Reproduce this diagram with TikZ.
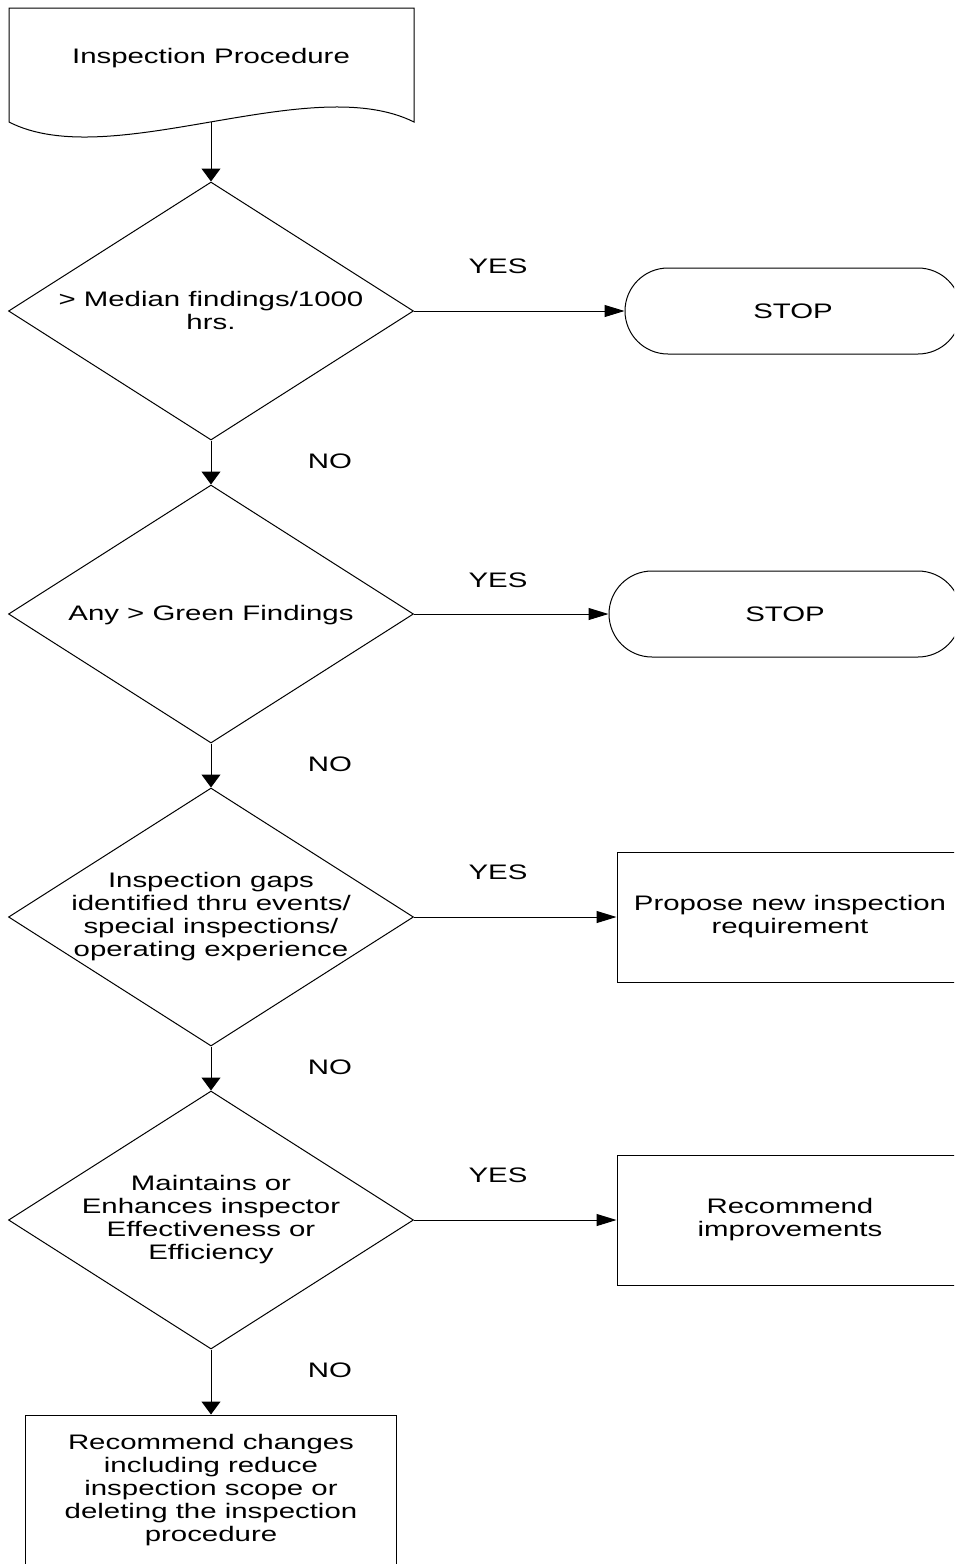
\documentclass[tikz,border=0pt]{standalone}
\usepackage{fontspec}
\setmainfont{Liberation Sans}[FakeStretch=1.4]
\usepackage{tikz}
\usetikzlibrary{shapes.geometric,arrows.meta}
\newdimen\pxu \pxu=0.5pt

\begin{document}
\begin{tikzpicture}[x=0.5pt,y=-0.5pt,line width=0.5pt]
\tikzstyle{every node}=[font=\fontsize{10.5}{11.5}\selectfont,align=center,inner sep=0pt]
\tikzstyle{decision}=[draw,diamond,minimum width=405\pxu,minimum height=258\pxu]
\tikzstyle{stopbox}=[draw,rectangle,rounded corners=43\pxu,minimum height=86\pxu]
\tikzstyle{actbox}=[draw,rectangle,minimum width=346\pxu,minimum height=130\pxu]
\tikzstyle{down}=[-{Triangle[length=6.5pt,width=9.5pt]}]
\tikzstyle{across}=[-{Triangle[length=10pt,width=6pt]}]
\useasboundingbox (0,0) rectangle (954,1564);
\clip (0,0) rectangle (954,1564);
\fill[white] (0,0) rectangle (954,1564);
\draw (9,8) -- (414,8) -- (414,122) .. controls (310,70) and (110,174) .. (9,122) -- cycle;
\node (doc) at (211,58) {Inspection Procedure};
\coordinate (docbot) at (211,122);
\node[decision] (q1) at (211,311) {};
\node (q1t) at (211,310) {\textgreater{} Median findings/1000\\hrs.};
\node[decision] (q2) at (211,614) {};
\node (q2t) at (211,615) {Any \textgreater{} Green Findings};
\node[decision] (q3) at (211,917) {};
\node (q3t) at (211,917) {Inspection gaps\\identified thru events/\\special inspections/\\operating experience};
\node[decision] (q4) at (211,1220) {};
\node (q4t) at (211,1220) {Maintains or\\Enhances inspector\\Effectiveness or\\Efficiency};
\node[stopbox,minimum width=336\pxu] (stop1) at (793,311) {STOP};
\node[stopbox,minimum width=352\pxu] (stop2) at (785,614) {STOP};
\node[actbox] (prop) at (790,917) {Propose new inspection\\requirement};
\node[actbox] (impr) at (790,1220) {Recommend\\improvements};
\node[actbox,minimum width=371\pxu,minimum height=150\pxu] (chg) at (211,1490) {Recommend changes\\including reduce\\inspection scope or\\deleting the inspection\\procedure};
\node (yes1) at (498,266) {YES};
\node (yes2) at (498,580) {YES};
\node (yes3) at (498,872) {YES};
\node (yes4) at (498,1175) {YES};
\node (no1) at (330,461) {NO};
\node (no2) at (330,764) {NO};
\node (no3) at (330,1067) {NO};
\node (no4) at (330,1370) {NO};
\draw[down] (docbot) -- (q1);
\draw[down] (q1) -- (q2);
\draw[down] (q2) -- (q3);
\draw[down] (q3) -- (q4);
\draw[down] (q4) -- (chg);
\draw[across] (q1) -- (stop1);
\draw[across] (q2) -- (stop2);
\draw[across] (q3) -- (prop);
\draw[across] (q4) -- (impr);
\end{tikzpicture}
\end{document}
